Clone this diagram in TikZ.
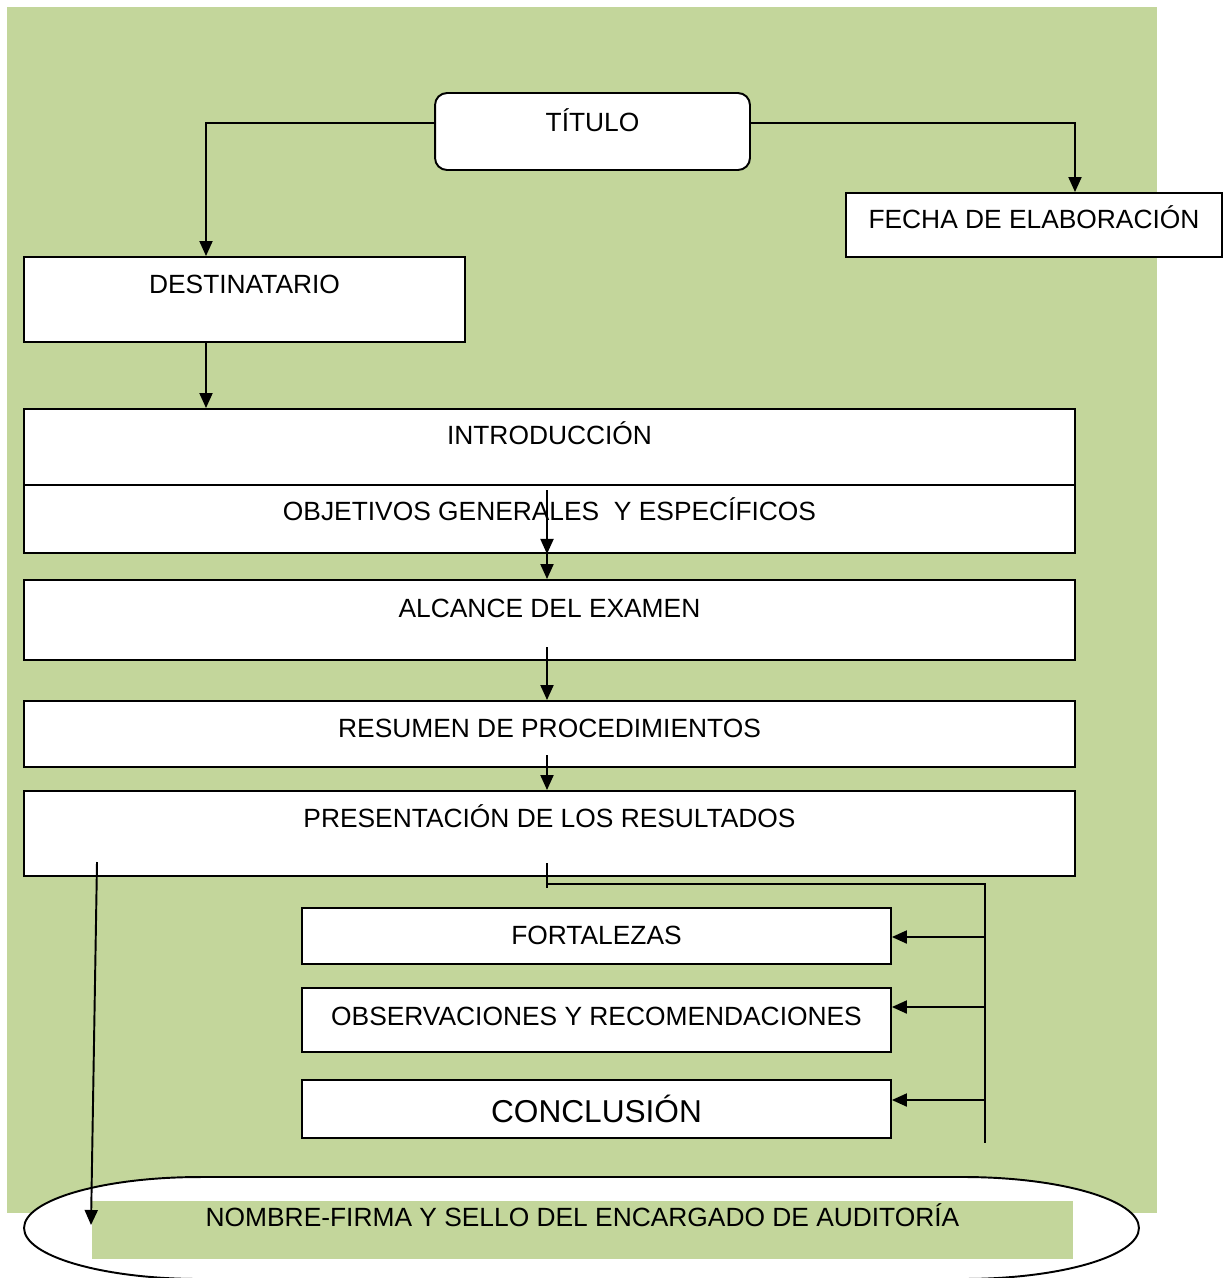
\documentclass[tikz,border=0pt]{standalone}
\usepackage{fontspec}
\setmainfont{Liberation Sans}
\usetikzlibrary{arrows.meta}
\definecolor{verde}{RGB}{195,214,155}

\begin{document}
\begin{tikzpicture}[x=0.02cm, y=-0.02cm, line width=1.1pt,
	>={Triangle[length=0.3cm,width=0.26cm]},
	font=\fontsize{15}{18}\selectfont,
	caja/.style={draw, fill=white, inner sep=0pt, text height=0.38cm, minimum width=21.02cm}]
			\useasboundingbox (0,0) rectangle (1227,1278);
			\fill[verde] (7,7) rectangle (1157,1213);

			\node[caja, rounded corners=0.24cm, minimum width=6.3cm, minimum height=1.54cm, text depth=0.40cm] (titulo) at (592.5,131.5) {TÍTULO};
			\node[caja, minimum width=7.52cm, minimum height=1.28cm, text depth=0.26cm] (fecha) at (1034,225) {FECHA DE ELABORACIÓN};
			\node[caja, minimum width=8.82cm, minimum height=1.7cm, text depth=0.64cm] (destinatario) at (244.5,299.5) {DESTINATARIO};
			\node[caja, minimum height=1.52cm, text depth=0.50cm] (intro) at (549.5,447) {INTRODUCCIÓN};
			\node[caja, minimum height=1.36cm, text depth=0.34cm] (objetivos) at (549.5,519) {OBJETIVOS GENERALES \ Y ESPECÍFICOS};
			\node[caja, minimum height=1.6cm, text depth=0.50cm] (alcance) at (549.5,620) {ALCANCE DEL EXAMEN};
			\node[caja, minimum height=1.32cm, text depth=0.26cm] (resumen) at (549.5,734) {RESUMEN DE PROCEDIMIENTOS};
			\node[caja, minimum height=1.7cm, text depth=0.64cm] (presentacion) at (549.5,833.5) {PRESENTACIÓN DE LOS RESULTADOS};
			\node[caja, minimum width=11.78cm, minimum height=1.12cm, text depth=0.06cm] (fortalezas) at (596.5,936) {FORTALEZAS};
			\node[caja, minimum width=11.78cm, minimum height=1.28cm, text depth=0.18cm] (observaciones) at (596.5,1020) {OBSERVACIONES Y RECOMENDACIONES};
			\node[caja, minimum width=11.78cm, minimum height=1.16cm, text height=, font=\fontsize{18}{21}\selectfont] (conclusion) at (596.5,1109) {CONCLUSIÓN};

			% marco del pie
			\draw[fill=white] (200,1177) -- (963,1177) arc[start angle=90, end angle=-90, x radius=3.52cm, y radius=1.02cm]
				-- (200,1279) arc[start angle=270, end angle=90, x radius=3.52cm, y radius=1.02cm] -- cycle;
			\node[fill=verde, inner sep=0pt, minimum width=19.62cm, minimum height=1.16cm, text height=0.38cm, text depth=0.54cm] (firma) at (582.5,1230) {NOMBRE-FIRMA Y SELLO DEL ENCARGADO DE AUDITORÍA};

			\coordinate (izq) at (206,123);
			\coordinate (der) at (1075,123);
			\coordinate (eje) at (547,0);
			\coordinate (bus) at (985,884);
			\coordinate (b1) at (985,937);
			\coordinate (b2) at (985,1007);
			\coordinate (b3) at (985,1100);
			\coordinate (salida) at (97,862);
			\coordinate (llegada) at (91,1225);

			\draw [->] ([yshift=0.17cm]titulo.west) -- (izq) -- (izq |- destinatario.north);
			\draw [->] ([yshift=0.17cm]titulo.east) -- (der) -- (der |- fecha.north);
			\draw [->] (izq |- destinatario.south) -- (izq |- intro.north);
			\draw [->] (eje |- 0,490) -- (eje |- objetivos.south);
			\draw [->] (eje |- objetivos.south) -- (eje |- alcance.north);
			\draw [->] (eje |- 0,647) -- (eje |- resumen.north);
			\draw [->] (eje |- 0,755) -- (eje |- presentacion.north);
			\draw [-] (eje |- 0,863) -- (eje |- 0,888);
			\draw [-] (eje |- bus) -- (bus) -- (985,1143);
			\draw [->] (b1) -- (b1 -| fortalezas.east);
			\draw [->] (b2) -- (b2 -| observaciones.east);
			\draw [->] (b3) -- (b3 -| conclusion.east);
			\draw [->] (salida) -- (llegada);
		\end{tikzpicture}
\end{document}
